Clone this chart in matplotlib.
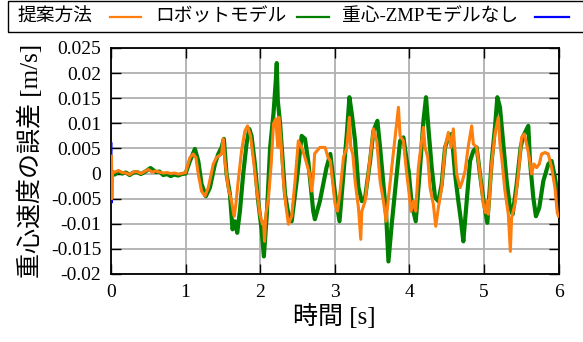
import numpy as np
import matplotlib
matplotlib.use('Agg')
import matplotlib.pyplot as plt
from matplotlib.lines import Line2D
from matplotlib.patches import Rectangle

plt.rcParams['font.family'] = ['Liberation Serif', 'Noto Sans CJK JP']
plt.rcParams['axes.unicode_minus'] = False

# time [s] and COG velocity error [m/s]
orange_t = [0.0, 0.006, 0.012, 0.018, 0.05, 0.1, 0.15, 0.2, 0.25, 0.3, 0.35, 0.4, 0.45, 0.5,
            0.55, 0.6, 0.65, 0.7, 0.75, 0.8, 0.85, 0.9, 0.95, 1.0, 1.058, 1.103, 1.138, 1.17,
            1.214, 1.259, 1.304, 1.371, 1.415, 1.482, 1.504, 1.527, 1.571, 1.616, 1.638, 1.652,
            1.674, 1.705, 1.75, 1.795, 1.83, 1.87, 1.906, 1.951, 1.996, 2.03, 2.044, 2.058,
            2.076, 2.111, 2.147, 2.178, 2.209, 2.236, 2.253, 2.28, 2.311, 2.342, 2.378, 2.422,
            2.467, 2.511, 2.556, 2.6, 2.66, 2.69, 2.71, 2.73, 2.8, 2.87, 2.91, 2.94, 2.98,
            3.004, 3.036, 3.071, 3.116, 3.161, 3.196, 3.214, 3.241, 3.272, 3.317, 3.348, 3.362,
            3.406, 3.473, 3.518, 3.563, 3.607, 3.652, 3.688, 3.719, 3.763, 3.808, 3.853, 3.875,
            3.92, 3.96, 3.987, 4.022, 4.054, 4.085, 4.12, 4.165, 4.188, 4.21, 4.246, 4.277,
            4.321, 4.353, 4.388, 4.433, 4.478, 4.522, 4.558, 4.589, 4.634, 4.679, 4.71, 4.746,
            4.79, 4.835, 4.857, 4.902, 4.946, 4.991, 5.022, 5.045, 5.058, 5.103, 5.147, 5.192,
            5.214, 5.237, 5.281, 5.326, 5.353, 5.37, 5.415, 5.46, 5.504, 5.54, 5.571, 5.607,
            5.638, 5.67, 5.705, 5.741, 5.772, 5.817, 5.862, 5.906, 5.951, 5.982, 6.0]
orange_v = [0.0, 0.0035, -0.005, 0.0, 0.0003, 0.0006, 0.0002, 0.0001, -0.0002, 0.0003, 0.0004,
            0.0, 0.0004, 0.0008, 0.0003, 0.0005, 0.0003, 0.0001, 0.0002, 0.0, 0.0001, -0.0001,
            0.0, 0.0002, 0.0032, 0.0039, 0.0032, -0.0001, -0.0035, -0.0045, -0.0028, 0.0019,
            0.0032, 0.0039, 0.0069, 0.0025, -0.0028, -0.0055, -0.0075, -0.0085, -0.0061,
            -0.0015, 0.0045, 0.0085, 0.0095, 0.0075, 0.0032, -0.0028, -0.0081, -0.0101,
            -0.0095, -0.0135, -0.0081, -0.0048, 0.0019, 0.0099, 0.0109, 0.0052, 0.0112, 0.0059,
            -0.0015, -0.0061, -0.0101, -0.0085, -0.0015, 0.0065, 0.0052, 0.0032, 0.0, -0.0035,
            -0.001, 0.004, 0.0052, 0.0052, 0.0032, 0.0025, -0.003, -0.0061, -0.0075, -0.0035,
            0.0032, 0.0052, 0.0112, 0.0052, 0.0039, -0.0015, -0.0068, -0.0131, -0.0075, -0.0055,
            0.0032, 0.0089, 0.0065, -0.0015, -0.0055, -0.0095, -0.0048, 0.0012, 0.0072, 0.0132,
            0.0075, 0.0065, 0.0005, -0.0028, -0.0075, -0.0055, -0.0075, 0.0012, 0.0065, 0.0092,
            0.0052, 0.0032, -0.0028, -0.0061, -0.0105, -0.0068, -0.0028, 0.0052, 0.0082, 0.0052,
            0.0089, -0.0001, -0.0028, -0.0015, 0.0005, 0.0055, 0.0095, 0.0059, 0.0052, -0.0001,
            -0.0061, -0.0078, -0.0055, -0.0081, 0.002, 0.0079, 0.0112, 0.0059, 0.0032, -0.0035,
            -0.0081, -0.0155, -0.0088, -0.0061, -0.0001, 0.0072, 0.0079, 0.0059, 0.0032, -0.0001,
            0.0019, 0.0012, 0.0019, 0.0039, 0.0042, 0.0039, 0.0012, -0.0028, -0.0078, -0.0085]

blue_t = orange_t
blue_v = [0.0, 0.0062, -0.0058, 0.0, 0.0002, 0.0005, 0.0002, 0.0, -0.0001, 0.0002, 0.0003,
          0.0, 0.0003, 0.0007, 0.0003, 0.0004, 0.0002, 0.0001, 0.0001, 0.0, 0.0, -0.0001,
          0.0, 0.0001, 0.0031, 0.0038, 0.0031, -0.0002, -0.0036, -0.0046, -0.0029, 0.0018,
          0.0031, 0.0038, 0.0066, 0.0024, -0.0029, -0.0056, -0.0074, -0.0082, -0.0062,
          -0.0016, 0.0044, 0.0084, 0.0094, 0.0074, 0.0031, -0.0029, -0.0082, -0.0100,
          -0.0096, -0.0130, -0.0082, -0.0049, 0.0018, 0.0097, 0.0107, 0.0053, 0.0108, 0.0058,
          -0.0016, -0.0062, -0.0100, -0.0086, -0.0016, 0.0064, 0.0053, 0.0031, 0.0, -0.0033,
          -0.001, 0.0039, 0.0051, 0.0051, 0.0031, 0.0024, -0.0031, -0.0062, -0.0076, -0.0036,
          0.0031, 0.0051, 0.0108, 0.0053, 0.0038, -0.0016, -0.0069, -0.0126, -0.0076, -0.0056,
          0.0031, 0.0088, 0.0064, -0.0016, -0.0056, -0.0094, -0.0049, 0.0011, 0.0071, 0.0128,
          0.0074, 0.0064, 0.0004, -0.0029, -0.0076, -0.0056, -0.0074, 0.0011, 0.0064, 0.0090,
          0.0053, 0.0031, -0.0029, -0.0062, -0.0102, -0.0069, -0.0029, 0.0051, 0.0081, 0.0053,
          0.0087, -0.0002, -0.0029, -0.0016, 0.0004, 0.0054, 0.0093, 0.0058, 0.0051, -0.0002,
          -0.0062, -0.0079, -0.0056, -0.0080, 0.0019, 0.0078, 0.0110, 0.0058, 0.0031, -0.0036,
          -0.0082, -0.0150, -0.0089, -0.0062, -0.0002, 0.0071, 0.0078, 0.0058, 0.0031, -0.0002,
          0.0018, 0.0011, 0.0018, 0.0038, 0.0041, 0.0038, 0.0011, -0.0029, -0.0079, -0.0086]

green_t = [0.0, 0.02, 0.05, 0.1, 0.15, 0.2, 0.25, 0.3, 0.35, 0.4, 0.45, 0.53, 0.6, 0.65, 0.7,
           0.75, 0.8, 0.85, 0.9, 0.95, 1.0, 1.058, 1.125, 1.17, 1.214, 1.272, 1.326, 1.393,
           1.438, 1.482, 1.513, 1.549, 1.594, 1.629, 1.66, 1.692, 1.728, 1.772, 1.817, 1.853,
           1.884, 1.929, 1.973, 2.018, 2.049, 2.089, 2.133, 2.178, 2.209, 2.222, 2.236, 2.267,
           2.333, 2.378, 2.422, 2.489, 2.556, 2.6, 2.644, 2.711, 2.733, 2.8, 2.889, 2.94, 3.004,
           3.063, 3.116, 3.161, 3.196, 3.228, 3.272, 3.317, 3.362, 3.406, 3.473, 3.518, 3.571,
           3.607, 3.652, 3.688, 3.719, 3.763, 3.83, 3.875, 3.92, 3.96, 3.99, 4.031, 4.085,
           4.143, 4.188, 4.223, 4.254, 4.299, 4.344, 4.388, 4.433, 4.478, 4.522, 4.567, 4.612,
           4.656, 4.692, 4.723, 4.768, 4.813, 4.857, 4.902, 4.946, 4.99, 5.045, 5.103, 5.147,
           5.179, 5.214, 5.259, 5.304, 5.348, 5.384, 5.438, 5.491, 5.527, 5.594, 5.616, 5.661,
           5.696, 5.741, 5.795, 5.862, 5.906, 5.951, 6.0]
green_v = [0.0, 0.0003, -0.0002, 0.0004, 0.0, 0.0002, -0.0003, 0.0002, 0.0003, -0.0001, 0.0003,
           0.0011, 0.0003, 0.0004, -0.0003, -0.0001, -0.0005, -0.0002, -0.0004, -0.0001, 0.0,
           0.0025, 0.0049, 0.0025, -0.0021, -0.0045, -0.0028, 0.0019, 0.0039, 0.0052, 0.0069,
           -0.0001, -0.0041, -0.0111, -0.0095, -0.0118, -0.0075, -0.0001, 0.0059, 0.0089,
           0.0075, 0.0019, -0.0055, -0.0111, -0.0165, -0.0081, 0.0052, 0.0119, 0.0185, 0.022,
           0.0145, 0.0099, -0.0041, -0.0081, -0.0095, -0.0015, 0.0075, 0.0069, 0.0025, -0.0075,
           -0.0091, -0.0055, 0.0012, 0.0039, -0.0041, -0.0095, -0.0001, 0.0079, 0.0152, 0.0119,
           0.0065, -0.0028, -0.0055, -0.0048, 0.0025, 0.0085, 0.0105, 0.0052, -0.0021, -0.0081,
           -0.0175, -0.0101, -0.0001, 0.0065, 0.0072, 0.003, 0.0005, -0.0061, -0.0095, 0.0012,
           0.0105, 0.0152, 0.0092, 0.0012, -0.0048, -0.0055, -0.0021, 0.0052, 0.0072, 0.0079,
           -0.0001, -0.0055, -0.0095, -0.0135, -0.0055, 0.0025, 0.0045, 0.0052, -0.0001,
           -0.005, -0.0098, 0.0025, 0.0092, 0.0152, 0.0132, 0.0059, -0.0015, -0.0068, -0.0081,
           -0.0021, 0.0052, 0.0075, 0.0095, 0.0025, -0.0048, -0.0085, -0.0068, -0.0015, 0.0019,
           0.0025, -0.0008, -0.0055]

labels = ['提案方法', 'ロボットモデル', '重心-ZMPモデルなし']
yticks = [-0.02, -0.015, -0.01, -0.005, 0, 0.005, 0.01, 0.015, 0.02, 0.025]
ytick_labels = ['-0.02', '-0.015', '-0.01', '-0.005', '0', '0.005', '0.01', '0.015', '0.02', '0.025']
xticks = [0, 1, 2, 3, 4, 5, 6]

W, H = 583, 342
fig = plt.figure(figsize=(W/100, H/100), dpi=100)
ax = fig.add_axes([111/W, 1-274/H, (558.6-111)/W, (274-48)/H])

l1, = ax.plot(orange_t, orange_v, color='#ff7f0e', lw=2.2, zorder=4)
l2, = ax.plot(green_t, green_v, color='#008000', lw=3.0, zorder=2)
l3, = ax.plot(blue_t, blue_v, color='#0000ff', lw=1.2, zorder=3)

ax.set_xlim(0, 6)
ax.set_ylim(-0.02, 0.025)
ax.set_xticks(xticks)
ax.set_xticklabels([str(x) for x in xticks])
ax.set_yticks(yticks)
ax.set_yticklabels(ytick_labels)
ax.grid(True, color='#b0b0b0', lw=1.3)
ax.set_axisbelow(True)
ax.tick_params(direction='in', length=7, width=1, top=True, right=True, labelsize=14, pad=7)
for s in ax.spines.values():
    s.set_linewidth(1.3)

ax.set_xlabel('時間 [s]', fontsize=18, labelpad=2)
ax.set_ylabel('重心速度の誤差 [m/s]', fontsize=18, labelpad=6)

# key box across the top: text first, then the line sample (pixel layout)
fig.add_artist(Rectangle((8/W, 1-32/H), 600/W, 31/H, transform=fig.transFigure,
                         fill=False, ec='black', lw=1.0, clip_on=False))
text_x = [17, 155, 342]
sample_x = [(110, 141), (297, 329), (535, 569)]
ky = 1 - 17/H
for lab, tx, (x0, x1), ln in zip(labels, text_x, sample_x, [l1, l2, l3]):
    fig.text(tx/W, ky, lab, fontsize=13.5, va='center', ha='left')
    fig.add_artist(Line2D([x0/W, x1/W], [ky, ky], transform=fig.transFigure,
                          color=ln.get_color(), lw=1.6))

fig.savefig('out.png', dpi=100)
